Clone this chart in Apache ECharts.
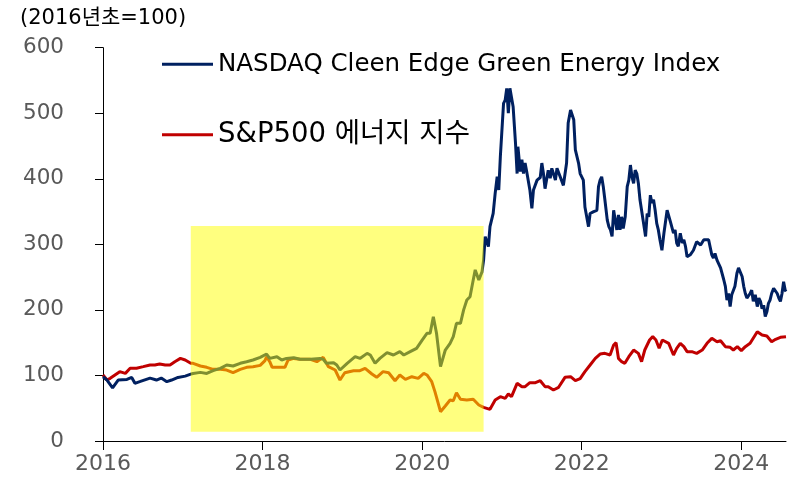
<!DOCTYPE html>
<html>
<head>
<meta charset="utf-8">
<script src="https://cdn.jsdelivr.net/npm/echarts@6/dist/echarts.min.js"></script>
<style>html,body{margin:0;padding:0;background:#fff}#c{width:794px;height:494px}</style>
</head>
<body>
<div id="c"></div>
<script>
const seriesNames = ['NASDAQ Cleen Edge Green Energy Index', 'S&P500 에너지 지수'];
const xTickLabels = [2016, 2018, 2020, 2022, 2024];
const highlightRange = [2017.10, 2020.77];
const highlightValues = [14, 328];

const nasdaqDates = [
2016.00,2016.05,2016.12,2016.19,2016.30,2016.36,2016.40,2016.46,2016.59,2016.67,2016.73,2016.80,2016.86,2016.94,2017.03,2017.10,
2017.13,2017.22,2017.30,2017.38,2017.47,2017.55,2017.63,2017.72,2017.80,2017.88,2017.97,2018.05,2018.09,2018.18,2018.24,2018.30,
2018.39,2018.47,2018.60,2018.72,2018.76,2018.80,2018.89,2018.93,2018.97,2019.06,2019.16,2019.22,2019.31,2019.35,2019.41,2019.47,
2019.56,2019.64,2019.72,2019.77,2019.85,2019.93,2020.00,2020.06,2020.10,2020.14,2020.18,2020.23,2020.25,2020.29,2020.35,2020.39,
2020.43,2020.48,2020.52,2020.56,2020.60,2020.64,2020.665,2020.71,2020.75,2020.77,2020.79,2020.83,2020.85,2020.89,2020.915,2020.94,
2020.96,2020.98,2021.00,2021.02,2021.04,2021.06,2021.08,2021.10,2021.12,2021.14,2021.17,2021.19,2021.20,2021.23,2021.25,2021.27,
2021.29,2021.31,2021.35,2021.375,2021.395,2021.44,2021.48,2021.50,2021.52,2021.54,2021.58,2021.605,2021.625,2021.67,2021.69,2021.73,
2021.77,2021.81,2021.83,2021.86,2021.88,2021.90,2021.92,2021.96,2021.98,2022.02,2022.04,2022.085,2022.105,2022.15,2022.19,2022.21,
2022.23,2022.25,2022.27,2022.29,2022.32,2022.34,2022.36,2022.38,2022.40,2022.42,2022.44,2022.46,2022.48,2022.50,2022.52,2022.545,
2022.57,2022.59,2022.61,2022.63,2022.65,2022.67,2022.69,2022.71,2022.73,2022.75,2022.775,2022.80,2022.82,2022.84,2022.86,2022.88,
2022.90,2022.92,2022.94,2022.96,2022.98,2023.005,2023.03,2023.07,2023.09,2023.11,2023.13,2023.15,2023.17,2023.19,2023.21,2023.235,
2023.26,2023.28,2023.30,2023.32,2023.36,2023.40,2023.44,2023.49,2023.53,2023.59,2023.63,2023.65,2023.67,2023.695,2023.715,2023.74,
2023.76,2023.78,2023.80,2023.82,2023.84,2023.86,2023.88,2023.90,2023.92,2023.945,2023.965,2023.99,2024.01,2024.03,2024.05,2024.07,
2024.09,2024.11,2024.13,2024.15,2024.175,2024.20,2024.22,2024.24,2024.26,2024.28,2024.30,2024.32,2024.34,2024.36,2024.38,2024.405,
2024.43,2024.45,2024.47,2024.49,2024.51,2024.53,2024.55,2024.56];
const nasdaqValues = [
98,93,81,93,94,97,88,90.5,96,93,96,90.5,93,97,99,102,
103,104.7,103,107.3,110.9,116,114.4,118.5,121,123.6,127.6,132.7,126,128.6,123.6,126,
127,124.6,124.6,126,124.6,118.5,119.5,116,108.3,118.5,128.6,126,133.7,131.2,118.5,126,
134.8,131.2,136.3,131.2,136.3,141.4,154,164.3,164.3,189.6,164.3,113.4,110.9,138.8,149,159.2,
179.5,179.5,200,215,220,245.6,261,245.6,258,276,311.7,296.5,327,347.3,377.8,403.3,
382.9,433.8,436.3,515,520,538,500,538,540,510,454,408,449,411,429,408,
424,411,383,355,383,398,402,424,408,385,413,401,416,398,416,403,
390,424,485,505,502,490,444,424,408,398,357,327,347,350,352,388,
398,403,388,368,337,327,322,312,352,350,322,345,322,342,324,342,
388,398,421,403,393,413,408,393,368,352,332,312,347,342,375,363,
368,352,332,322,307,291,317,352,355,335,337,317,322,302,297,317,
302,307,297,281,284,291,304,299,307,307,284,279,286,276,274,264,
261,246,236,215,225,205,223,225,236,256,264,264,251,236,225,218,
218,225,230,213,223,205,218,213,202,207,190,197,210,215,225,233,
230,225,218,213,225,243,230,228];

const energyDates = [
2016.00,2016.05,2016.09,2016.15,2016.21,2016.28,2016.34,2016.42,2016.505,2016.59,2016.65,2016.71,2016.78,2016.84,2016.90,2016.97,2017.03,2017.10,
2017.13,2017.22,2017.30,2017.38,2017.47,2017.55,2017.63,2017.72,2017.80,2017.88,2017.97,2018.03,2018.05,2018.09,2018.12,2018.22,2018.28,2018.32,2018.39,2018.47,
2018.60,2018.68,2018.76,2018.825,2018.91,2018.97,2019.03,2019.14,2019.22,2019.285,2019.37,2019.43,2019.51,2019.58,2019.66,2019.72,2019.79,2019.87,2019.95,
2020.02,2020.06,2020.12,2020.16,2020.23,2020.29,2020.35,2020.39,2020.43,2020.48,2020.56,2020.64,2020.71,2020.77,
2020.79,2020.85,2020.915,2020.98,2021.04,2021.08,2021.12,2021.19,2021.25,2021.29,2021.35,2021.42,2021.48,2021.54,2021.58,2021.645,2021.71,2021.79,2021.86,2021.92,2021.98,
2022.04,2022.105,2022.17,2022.23,2022.29,2022.355,2022.40,2022.43,2022.46,2022.50,2022.54,2022.59,2022.65,2022.71,2022.75,2022.79,2022.85,2022.89,2022.93,2022.97,
2023.01,2023.03,2023.09,2023.15,2023.19,2023.235,2023.28,2023.32,2023.38,2023.44,2023.51,2023.57,2023.63,2023.695,2023.74,2023.80,2023.86,2023.90,2023.95,
2024.00,2024.05,2024.11,2024.20,2024.26,2024.32,2024.38,2024.43,2024.49,2024.56];
const energyValues = [
100.7,93,95.6,100.7,105.8,103.2,110.9,110.9,113.4,116,116,117.5,116,116,121,126,123.6,118.5,
118.5,114.4,112.4,109.3,109.3,108.3,104.2,109.3,112.4,113.4,115.4,122.6,128.6,121,112.4,112.4,112.4,123.6,126,124.6,
124.6,121,127.6,113.4,108.3,93,104.2,107.3,107.3,110.9,102.2,97.1,105.8,104.2,92,100.7,94.1,98.1,95.6,
103.2,100.7,90.5,75.3,44.7,53.4,62.5,61.5,73.7,63.6,62.5,63.6,54.9,51.4,
49.8,48.3,62.5,67.6,65.1,71.7,67.6,88,82.9,82.9,89,89,92,82.9,82.9,77.8,81.9,97.1,98.1,92,95.1,
105.8,115.9,126.1,132.7,133.7,131.2,146.5,150,126.1,121,118.5,128.6,138.8,133.7,121,138.8,154.1,159.2,154.1,141.4,
154.1,156.6,149,131.2,141.4,149,143.9,136.3,136.3,133.7,138.8,149,156.6,151.5,153,143.9,142.9,138.8,143.9,
137.8,143.9,149,166.8,161.7,160.2,151.5,155.1,158.1,159];

const navyData = nasdaqDates.map((d, i) => [d, nasdaqValues[i]]);
const redData = energyDates.map((d, i) => [d, energyValues[i]]);

const FONT = 'DejaVu Sans, Noto Sans CJK KR, sans-serif';
const chart = echarts.init(document.getElementById('c'), null, {renderer: 'canvas'});
chart.setOption({
  animation: false,
  backgroundColor: '#ffffff',
  title: {
    text: '(2016년초=100)', left: 15, top: 3,
    textStyle: {fontFamily: FONT, fontSize: 21, fontWeight: 'normal', color: '#000'}
  },
  legend: [
    {data: [seriesNames[0]], left: 157, top: 47, padding: 5, icon: 'rect', itemWidth: 51, itemHeight: 3,
     textStyle: {fontFamily: FONT, fontSize: 24.5, color: '#000'}},
    {data: [seriesNames[1]], left: 157, top: 116, padding: 5, icon: 'rect', itemWidth: 51, itemHeight: 3,
     textStyle: {fontFamily: FONT, fontSize: 27.5, color: '#000'}}
  ],
  grid: {left: 103, right: 8, top: 47.7, bottom: 53, containLabel: false},
  xAxis: {
    type: 'value', min: 2016, max: 2024.56, interval: 2,
    axisLine: {onZero: false, lineStyle: {color: '#000', width: 1}},
    axisTick: {show: true, length: 9, inside: false, customValues: xTickLabels, lineStyle: {color: '#000'}},
    axisLabel: {customValues: xTickLabels, formatter: v => String(v), margin: 12,
      fontFamily: FONT, fontSize: 22, color: '#595959'},
    splitLine: {show: false}
  },
  yAxis: {
    type: 'value', min: 0, max: 600, interval: 100,
    axisLine: {show: true, lineStyle: {color: '#000', width: 1}},
    axisTick: {show: true, length: 8, inside: false, lineStyle: {color: '#000'}},
    axisLabel: {margin: 39, fontFamily: FONT, fontSize: 21.5, color: '#595959'},
    splitLine: {show: false}
  },
  series: [
    {name: seriesNames[0], type: 'line', data: navyData, showSymbol: false, symbol: 'none',
     lineStyle: {color: '#002060', width: 3}, itemStyle: {color: '#002060'}, z: 3},
    {name: seriesNames[1], type: 'line', data: redData, showSymbol: false, symbol: 'none',
     lineStyle: {color: '#C00000', width: 3}, itemStyle: {color: '#C00000'}, z: 2,
     markArea: {
       z: 10, silent: true,
       itemStyle: {color: 'rgba(255,255,0,0.5)'},
       data: [[{xAxis: highlightRange[0], yAxis: highlightValues[0]}, {xAxis: highlightRange[1], yAxis: highlightValues[1]}]]
     }}
  ]
});
</script>
</body>
</html>
